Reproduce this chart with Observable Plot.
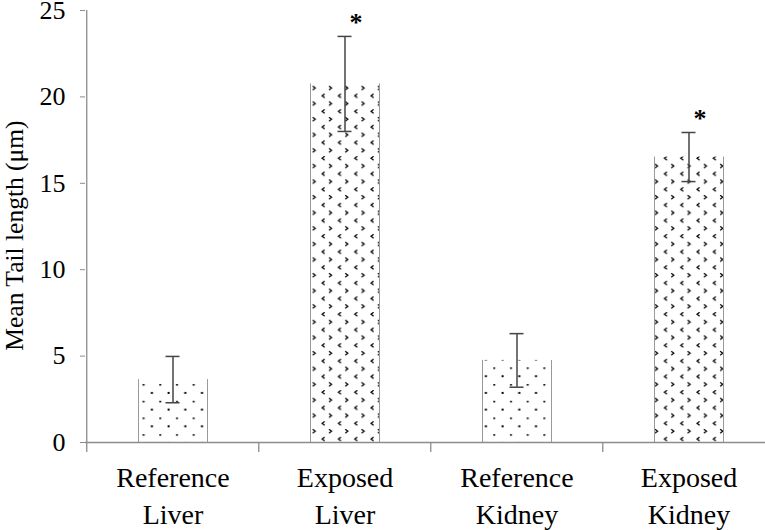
<!DOCTYPE html>
<html><head><meta charset="utf-8">
<script src="https://cdn.jsdelivr.net/npm/d3@7"></script>
<script src="https://cdn.jsdelivr.net/npm/@observablehq/plot@0.6"></script>
<style>body{margin:0;background:#fff} #chart svg{display:block}</style>
</head><body><div id="chart"></div>
<script>
// ---- data ----
const categories = ["Reference\nLiver", "Exposed\nLiver", "Reference\nKidney", "Exposed\nKidney"];
const groups = ["Reference", "Exposed", "Reference", "Exposed"];
const means = [3.64, 20.75, 4.75, 16.52];
const errors = [1.34, 2.75, 1.55, 1.42];
const significant = [false, true, false, true];
const yTicks = [0, 5, 10, 15, 20, 25];
const yLabel = "Mean Tail length (μm)";

const data = categories.map((c, i) => ({cat: c, group: groups[i], mean: means[i], err: errors[i], sig: significant[i]}));

// ---- layout ----
const W = 765, H = 530;
const mL = 85, mT = 10, mB = 88;
const xRange = [85, 775];
const step = (xRange[1] - xRange[0]) / categories.length;
const bw = step * 0.4;
const capW = 14;
const serif = "'Liberation Serif','Times New Roman',serif";
const axisGray = "#8c8c8c";
const errColor = "#444";

const shiftDown = (px) => (index, scales, values, dimensions, context, next) => {
  const g = next(index, scales, values, dimensions, context);
  if (g) g.setAttribute("transform", `${g.getAttribute("transform") || ""} translate(0,${px})`.trim());
  return g;
};

const plot = Plot.plot({
  width: W, height: H,
  marginLeft: mL, marginRight: 0, marginTop: mT, marginBottom: mB,
  style: {fontFamily: serif, background: "#fff", color: "#000"},
  x: {domain: categories, range: xRange, paddingInner: 0.6, paddingOuter: 0.3},
  y: {domain: [0, 25]},
  marks: [
    Plot.barY(data.filter(d => d.group === "Reference"), {x: "cat", y: "mean", fill: "url(#refPat)"}),
    Plot.barY(data.filter(d => d.group === "Exposed"), {x: "cat", y: "mean", fill: "url(#expPat)"}),
    // bar side edges
    Plot.ruleX(data, {x: "cat", y1: 0, y2: "mean", dx: -bw / 2, stroke: "#999", strokeWidth: 1}),
    Plot.ruleX(data, {x: "cat", y1: 0, y2: "mean", dx: bw / 2, stroke: "#999", strokeWidth: 1}),
    // error bars
    Plot.ruleX(data, {x: "cat", y1: d => d.mean - d.err, y2: d => d.mean + d.err, stroke: errColor, strokeWidth: 1.5}),
    Plot.tickY(data, {x: "cat", y: d => d.mean + d.err, insetLeft: (bw - capW) / 2, insetRight: (bw - capW) / 2, stroke: errColor, strokeWidth: 1.5}),
    Plot.tickY(data, {x: "cat", y: d => d.mean - d.err, insetLeft: (bw - capW) / 2, insetRight: (bw - capW) / 2, stroke: errColor, strokeWidth: 1.5}),
    // significance asterisks
    Plot.text(data.filter(d => d.sig), {x: "cat", y: d => d.mean + d.err, text: () => "*", dx: 11, dy: -14, fontSize: 26, fontWeight: "bold", fill: "#000"}),
    // axes lines
    Plot.ruleY([0], {stroke: axisGray, strokeWidth: 1.3}),
    Plot.ruleX([categories[0]], {x: d => d, y1: 0, y2: 25, dx: -step / 2, stroke: axisGray, strokeWidth: 1.3}),
    Plot.ruleX(categories, {x: d => d, y1: 0, y2: 0, insetBottom: -10, dx: -step / 2, stroke: axisGray, strokeWidth: 1.3}),
    Plot.axisY({ticks: yTicks, tickSize: 5, tickPadding: 15, fontSize: 26, label: null, stroke: axisGray, fill: "#000"}),
    Plot.axisX({tickSize: 0, tickPadding: 19, fontSize: 28, lineHeight: 1.3, label: null, fill: "#000"}),
    Plot.text([yLabel], {frameAnchor: "left", text: d => d, rotate: -90, dx: -71, fontSize: 25.5, textAnchor: "middle", lineAnchor: "middle", fill: "#000", render: shiftDown(9)})
  ]
});

const defs = document.createElementNS("http://www.w3.org/2000/svg", "defs");
defs.innerHTML = `
<pattern id="refPat" patternUnits="userSpaceOnUse" width="16.7" height="16.7">
  <rect x="9" y="-0.5" width="2" height="2" fill="#000"/>
  <rect x="0.6" y="7.8" width="2" height="2" fill="#000"/>
</pattern>
<pattern id="expPat" patternUnits="userSpaceOnUse" width="16.3" height="15.6">
  <path d="M15,0.3 L12.5,2.2 L15,4.1" fill="none" stroke="#000" stroke-width="1.3"/>
  <path d="M3,8.1 L5.5,10 L3,11.9" fill="none" stroke="#000" stroke-width="1.3"/>
</pattern>`;
plot.insertBefore(defs, plot.firstChild);
document.getElementById("chart").appendChild(plot);
</script>
</body></html>
